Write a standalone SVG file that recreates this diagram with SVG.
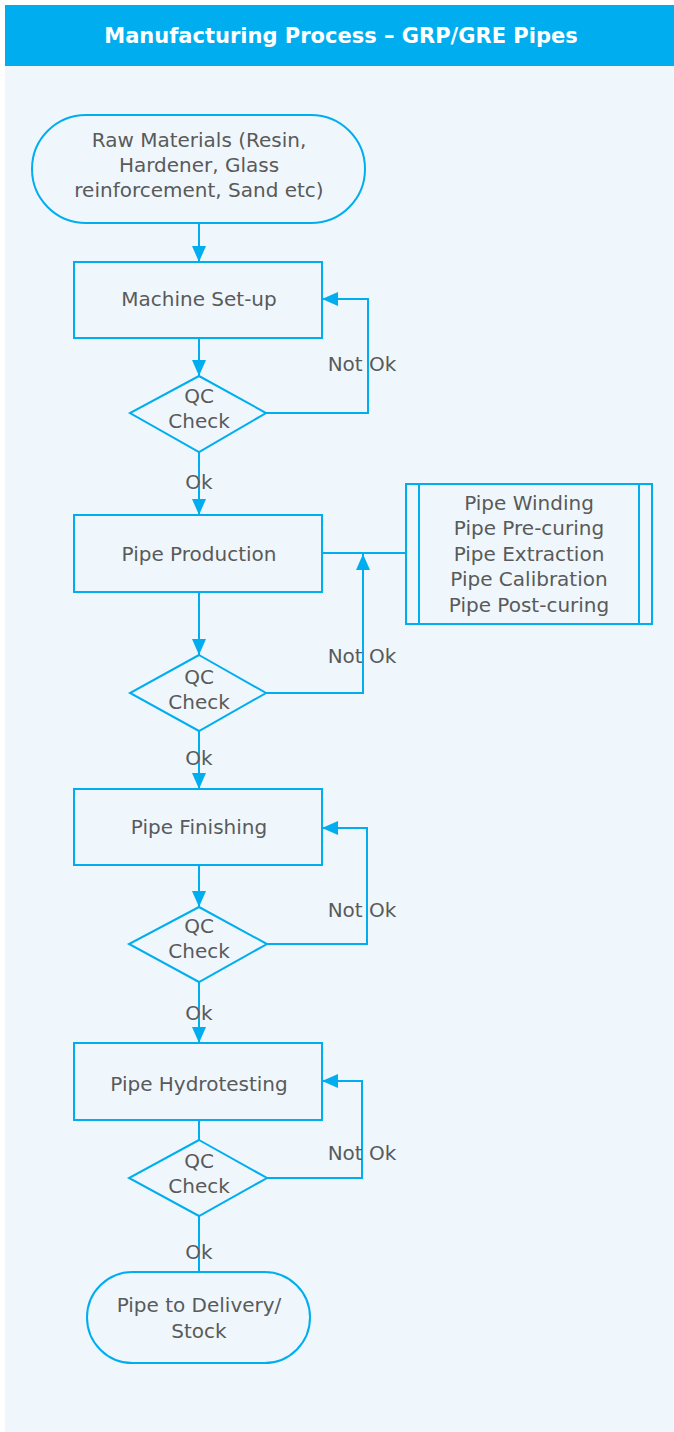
<svg xmlns="http://www.w3.org/2000/svg" width="674" height="1432" viewBox="0 0 674 1432">
<style>
.shape{fill:none;stroke:#00AEEF;stroke-width:2}
.line{fill:none;stroke:#00AEEF;stroke-width:2}
.t{font-family:"DejaVu Sans","Liberation Sans",sans-serif;font-size:20px;fill:#5A5A5A;text-anchor:middle;dominant-baseline:central}
.h{font-family:"DejaVu Sans","Liberation Sans",sans-serif;font-size:21px;font-weight:bold;fill:#FFFFFF;text-anchor:middle;dominant-baseline:central}
</style>
<defs>
<marker id="arr" viewBox="0 0 16 14" refX="16" refY="7" markerWidth="17" markerHeight="14" markerUnits="userSpaceOnUse" orient="auto">
<path d="M0,0 L16,7 L0,14 Z" fill="#00AEEF"/>
</marker>
</defs>
<rect x="0" y="0" width="674" height="1432" fill="#FFFFFF"/>
<rect x="5" y="5" width="669" height="1427" fill="#EFF7FD"/>
<g id="header">
<rect x="5" y="5" width="669" height="61" fill="#00AEEF"/>
<text class="h" x="341" y="36">Manufacturing Process – GRP/GRE Pipes</text>
</g>
<g id="connectors">
<path class="line" d="M199,223 V262" marker-end="url(#arr)"/>
<path class="line" d="M199,338 V376" marker-end="url(#arr)"/>
<path class="line" d="M266,413 H368 V299 H322" marker-end="url(#arr)"/>
<path class="line" d="M199,452 V515" marker-end="url(#arr)"/>
<path class="line" d="M199,592 V655" marker-end="url(#arr)"/>
<path class="line" d="M322,553 H406"/>
<path class="line" d="M266,693 H363 V554" marker-end="url(#arr)"/>
<path class="line" d="M199,731 V789" marker-end="url(#arr)"/>
<path class="line" d="M199,865 V907" marker-end="url(#arr)"/>
<path class="line" d="M267,944 H367 V828 H322" marker-end="url(#arr)"/>
<path class="line" d="M199,982 V1043" marker-end="url(#arr)"/>
<path class="line" d="M199,1120 V1140"/>
<path class="line" d="M267,1178 H362 V1081 H322" marker-end="url(#arr)"/>
<path class="line" d="M199,1216 V1272"/>
<text class="t" x="362" y="364">Not Ok</text>
<text class="t" x="199" y="482">Ok</text>
<text class="t" x="362" y="656">Not Ok</text>
<text class="t" x="199" y="758">Ok</text>
<text class="t" x="362" y="910">Not Ok</text>
<text class="t" x="199" y="1013">Ok</text>
<text class="t" x="362" y="1153">Not Ok</text>
<text class="t" x="199" y="1252">Ok</text>
</g>
<g id="raw-materials">
<rect class="shape" x="32" y="115" width="333" height="108" rx="54" ry="54"/>
<text class="t" x="199" y="140">Raw Materials (Resin,</text>
<text class="t" x="199" y="165">Hardener, Glass</text>
<text class="t" x="199" y="190">reinforcement, Sand etc)</text>
</g>
<g id="machine-setup">
<rect class="shape" x="74" y="262" width="248" height="76"/>
<text class="t" x="199" y="299">Machine Set-up</text>
</g>
<g id="qc1">
<polygon class="shape" points="199,376 266,413 199,452 130,413"/>
<text class="t" x="199" y="396">QC</text>
<text class="t" x="199" y="421">Check</text>
</g>
<g id="pipe-production">
<rect class="shape" x="74" y="515" width="248" height="77"/>
<text class="t" x="199" y="554">Pipe Production</text>
</g>
<g id="subprocess">
<rect class="shape" x="406" y="484" width="246" height="140"/>
<line class="line" x1="419" y1="484" x2="419" y2="624"/>
<line class="line" x1="639" y1="484" x2="639" y2="624"/>
<text class="t" x="529" y="503">Pipe Winding</text>
<text class="t" x="529" y="528">Pipe Pre-curing</text>
<text class="t" x="529" y="554">Pipe Extraction</text>
<text class="t" x="529" y="579">Pipe Calibration</text>
<text class="t" x="529" y="605">Pipe Post-curing</text>
</g>
<g id="qc2">
<polygon class="shape" points="199,655 266,693 199,731 130,693"/>
<text class="t" x="199" y="677">QC</text>
<text class="t" x="199" y="702">Check</text>
</g>
<g id="pipe-finishing">
<rect class="shape" x="74" y="789" width="248" height="76"/>
<text class="t" x="199" y="827">Pipe Finishing</text>
</g>
<g id="qc3">
<polygon class="shape" points="199,907 267,944 199,982 129,944"/>
<text class="t" x="199" y="926">QC</text>
<text class="t" x="199" y="951">Check</text>
</g>
<g id="pipe-hydrotesting">
<rect class="shape" x="74" y="1043" width="248" height="77"/>
<text class="t" x="199" y="1084">Pipe Hydrotesting</text>
</g>
<g id="qc4">
<polygon class="shape" points="199,1140 267,1178 199,1216 129,1178"/>
<text class="t" x="199" y="1161">QC</text>
<text class="t" x="199" y="1186">Check</text>
</g>
<g id="delivery">
<rect class="shape" x="87" y="1272" width="223" height="91" rx="45.5" ry="45.5"/>
<text class="t" x="199" y="1305">Pipe to Delivery/</text>
<text class="t" x="199" y="1331">Stock</text>
</g>
</svg>
